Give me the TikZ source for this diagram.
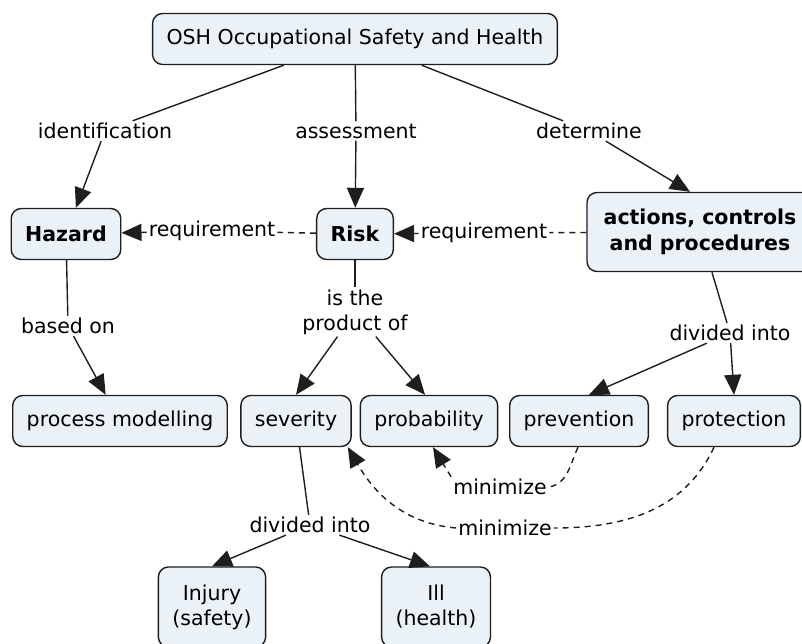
\documentclass[tikz,border=0pt]{standalone}
\usepackage{fontspec}
\setmainfont{DejaVu Sans}
\usetikzlibrary{arrows.meta,calc}
\definecolor{conceptfill}{RGB}{235,242,247}
\definecolor{conceptline}{RGB}{30,30,30}
\tikzset{
  concept/.style={draw=conceptline, fill=conceptfill, rounded corners=10pt, line width=1.4pt,
    minimum height=51pt, inner xsep=14pt, align=center, font=\fontsize{20.5}{25}\selectfont},
  keyconcept/.style={concept, font=\fontsize{20.5}{26}\selectfont\bfseries},
  linkphrase/.style={fill=white, inner sep=2pt, align=center, font=\fontsize{20.5}{25}\selectfont},
  link/.style={draw=conceptline, line width=1.4pt},
  linkto/.style={link, -{Triangle[length=20pt,width=17pt]}},
  weak/.style={dash pattern=on 6pt off 5pt},
}
\begin{document}
\begin{tikzpicture}[x=1pt,y=-1pt]
\useasboundingbox (0,0) rectangle (802,644);
% concepts
\node[concept] (osh) at (355,39) {OSH Occupational Safety and Health};
\node[keyconcept] (hazard) at (66,234) {Hazard};
\node[keyconcept] (risk) at (355,234) {Risk};
\node[keyconcept, minimum height=79pt, minimum width=226pt] (actions) at (700,232) {actions, controls\\and procedures};
\node[concept] (pm) at (120,421) {process modelling};
\node[concept] (severity) at (296,421) {severity};
\node[concept] (prob) at (429,421) {probability};
\node[concept] (prev) at (579,421) {prevention};
\node[concept] (prot) at (734,421) {protection};
\node[concept, minimum height=80pt] (injury) at (212,607) {Injury\\(safety)};
\node[concept, minimum height=80pt] (ill) at (436,607) {Ill\\(health)};
% linking phrases
\node[linkphrase] (ident) at (105,131) {identification};
\node[linkphrase] (assess) at (356,131) {assessment};
\node[linkphrase] (determ) at (589,131) {determine};
\node[linkphrase] (req1) at (212,231) {requirement};
\node[linkphrase] (req2) at (484,233) {requirement};
\node[linkphrase] (based) at (68,326) {based on};
\node[linkphrase] (product) at (355,312) {is the\\product of};
\node[linkphrase] (div1) at (730,333) {divided into};
\node[linkphrase] (div2) at (310,525) {divided into};
\node[linkphrase] (min1) at (500,487) {minimize};
\node[linkphrase] (min2) at (505,528) {minimize};
% connectors
\draw[link] (osh) -- (ident);
\draw[linkto] (ident) -- (hazard);
\draw[link] (osh) -- (assess);
\draw[linkto] (assess) -- (risk);
\draw[link] (osh) -- (determ);
\draw[linkto] (determ) -- ($(actions.north)+(-10,0)$);
\draw[link, weak] (risk) -- (req1);
\draw[linkto, weak] (req1) -- (hazard);
\draw[link, weak] (actions) -- (req2);
\draw[linkto, weak] (req2) -- (risk);
\draw[link] (hazard) -- (based);
\draw[linkto] (based) -- (pm);
\draw[link] (risk) -- (product);
\draw[linkto] (product) -- (severity.north);
\draw[linkto] (product) -- ($(prob.north)+(-4,0)$);
\draw[link] (actions) -- (div1);
\draw[linkto] (div1) -- ($(prev.north)+(10,0)$);
\draw[linkto] (div1) -- (prot.north);
\draw[link] (severity) -- (div2);
\draw[linkto] (div2) -- (injury.north);
\draw[linkto] (div2) -- ($(ill.north)+(-6,0)$);
% minimize loops
\draw[link, weak] ($(prev.south)+(-1,0)$) to[out=-115,in=10] (min1.east);
\draw[linkto, weak] (min1.north west) -- ($(prob.south)+(4,0)$);
\draw[link, weak] ($(prot.south)+(-20,0)$) to[out=-115,in=0] (min2.east);
\draw[linkto, weak] (min2.west) to[out=175,in=-60] ($(severity.south east)+(-4,0)$);
\end{tikzpicture}
\end{document}
